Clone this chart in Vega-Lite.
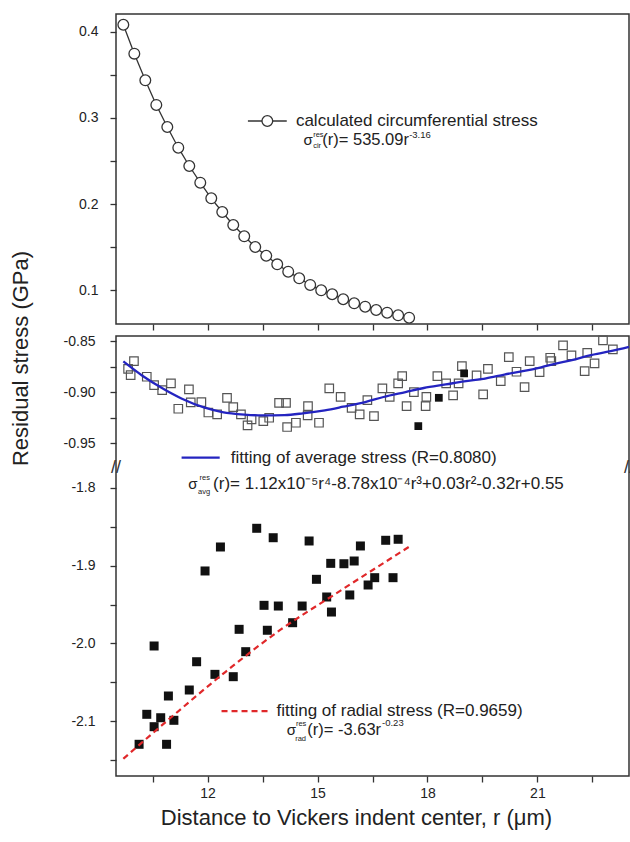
{
  "$schema": "https://vega.github.io/schema/vega-lite/v6.json",
  "padding": {"left": 8, "top": 13, "right": 0, "bottom": 5},
  "background": "white",
  "spacing": 12,
  "bounds": "flush",
  "config": {
    "view": {"stroke": "#333", "strokeWidth": 1.5},
    "axis": {"domain": false, "grid": false, "tickColor": "#333", "tickWidth": 1.3, "tickSize": 6,
      "labelFont": "Liberation Sans", "labelFontSize": 14, "labelColor": "#222",
      "titleFont": "Liberation Sans", "titleFontSize": 21, "titleFontWeight": "normal", "titleColor": "#222"},
    "text": {"font": "Liberation Sans", "color": "#222"}
  },
  "datasets": {
    "circ": [
      {"x": 9.7, "y": 0.408}, {"x": 10.0, "y": 0.3745}, {"x": 10.3, "y": 0.3436}, {"x": 10.6, "y": 0.315},
      {"x": 10.9, "y": 0.2894}, {"x": 11.2, "y": 0.2654}, {"x": 11.5, "y": 0.2442}, {"x": 11.8, "y": 0.2248},
      {"x": 12.1, "y": 0.2067}, {"x": 12.4, "y": 0.1908}, {"x": 12.7, "y": 0.1757}, {"x": 13.0, "y": 0.1626},
      {"x": 13.3, "y": 0.1502}, {"x": 13.6, "y": 0.1401}, {"x": 13.9, "y": 0.1301}, {"x": 14.2, "y": 0.1216},
      {"x": 14.5, "y": 0.1139}, {"x": 14.8, "y": 0.1062}, {"x": 15.1, "y": 0.1}, {"x": 15.4, "y": 0.0954},
      {"x": 15.7, "y": 0.0896}, {"x": 16.0, "y": 0.0849}, {"x": 16.3, "y": 0.081}, {"x": 16.6, "y": 0.0771},
      {"x": 16.9, "y": 0.074}, {"x": 17.2, "y": 0.071}, {"x": 17.5, "y": 0.0682}
    ],
    "circLegLine": [{"x": 13.1, "y": 0.2964}, {"x": 14.16, "y": 0.2964}],
    "circLegPt": [{"x": 13.63, "y": 0.2964}],
    "circLegText": [{"x": 14.41, "y": 0.2964, "t": "calculated circumferential stress"}],
    "circSigma": [{"x": 14.62, "y": 0.2686, "t": "σ"}],
    "circMain": [{"x": 15.13, "y": 0.2686, "t": "(r)= 535.09r"}],
    "circTiny": [
      {"x": 14.88, "y": 0.2784, "t": "res"},
      {"x": 14.88, "y": 0.2652, "t": "cir"}
    ],
    "circExp": [{"x": 17.5, "y": 0.2772, "t": "-3.16"}],
    "avgpts": [
      {"x": 9.83, "y": -0.8772}, {"x": 9.9, "y": -0.8834}, {"x": 9.99, "y": -0.8697}, {"x": 10.34, "y": -0.885},
      {"x": 10.54, "y": -0.8932}, {"x": 10.76, "y": -0.898}, {"x": 11.0, "y": -0.8915}, {"x": 11.2, "y": -0.9163},
      {"x": 11.49, "y": -0.8974}, {"x": 11.54, "y": -0.91}, {"x": 11.83, "y": -0.9098}, {"x": 12.02, "y": -0.92},
      {"x": 12.26, "y": -0.9218}, {"x": 12.53, "y": -0.9056}, {"x": 12.7, "y": -0.9147}, {"x": 12.91, "y": -0.9218},
      {"x": 13.09, "y": -0.9326}, {"x": 13.2, "y": -0.9267}, {"x": 13.52, "y": -0.9284}, {"x": 13.68, "y": -0.9251},
      {"x": 13.95, "y": -0.9105}, {"x": 14.14, "y": -0.9105}, {"x": 14.17, "y": -0.9342}, {"x": 14.41, "y": -0.93},
      {"x": 14.73, "y": -0.9228}, {"x": 14.74, "y": -0.9137}, {"x": 15.04, "y": -0.93}, {"x": 15.32, "y": -0.8964},
      {"x": 15.63, "y": -0.9046}, {"x": 15.93, "y": -0.9154}, {"x": 16.15, "y": -0.9218}, {"x": 16.36, "y": -0.9078},
      {"x": 16.54, "y": -0.9235}, {"x": 16.77, "y": -0.8964}, {"x": 16.97, "y": -0.9046}, {"x": 17.2, "y": -0.8915},
      {"x": 17.31, "y": -0.8843}, {"x": 17.43, "y": -0.9137}, {"x": 17.63, "y": -0.9}, {"x": 17.95, "y": -0.9137},
      {"x": 17.97, "y": -0.9046}, {"x": 18.27, "y": -0.8843}, {"x": 18.51, "y": -0.8915}, {"x": 18.7, "y": -0.9032},
      {"x": 18.85, "y": -0.8915}, {"x": 18.94, "y": -0.8746}, {"x": 19.34, "y": -0.8837}, {"x": 19.52, "y": -0.9023},
      {"x": 19.65, "y": -0.8772}, {"x": 20.0, "y": -0.8892}, {"x": 20.22, "y": -0.8658}, {"x": 20.43, "y": -0.8801},
      {"x": 20.65, "y": -0.8951}, {"x": 20.79, "y": -0.8697}, {"x": 21.06, "y": -0.8804}, {"x": 21.35, "y": -0.8664},
      {"x": 21.38, "y": -0.8697}, {"x": 21.7, "y": -0.8543}, {"x": 21.93, "y": -0.8641}, {"x": 22.29, "y": -0.8795},
      {"x": 22.36, "y": -0.8616}, {"x": 22.56, "y": -0.8719}, {"x": 22.79, "y": -0.8494}, {"x": 23.06, "y": -0.8582}
    ],
    "midFilled": [{"x": 17.75, "y": -0.9333}, {"x": 18.31, "y": -0.9056}, {"x": 19.0, "y": -0.8817}],
    "avgfit": [
      {"x": 9.7, "y": -0.87}, {"x": 10.2, "y": -0.8835}, {"x": 10.8, "y": -0.897}, {"x": 11.3, "y": -0.9065},
      {"x": 11.9, "y": -0.915}, {"x": 12.4, "y": -0.9195}, {"x": 13.0, "y": -0.922}, {"x": 13.5, "y": -0.9228},
      {"x": 14.1, "y": -0.9225}, {"x": 14.6, "y": -0.9208}, {"x": 15.2, "y": -0.9178}, {"x": 15.7, "y": -0.9143},
      {"x": 16.3, "y": -0.9098}, {"x": 16.8, "y": -0.9048}, {"x": 17.4, "y": -0.9}, {"x": 17.9, "y": -0.896},
      {"x": 18.5, "y": -0.8925}, {"x": 19.0, "y": -0.8895}, {"x": 19.6, "y": -0.8865}, {"x": 20.1, "y": -0.8828},
      {"x": 20.6, "y": -0.8795}, {"x": 21.1, "y": -0.8757}, {"x": 21.5, "y": -0.8722}, {"x": 22.0, "y": -0.8683},
      {"x": 22.4, "y": -0.8643}, {"x": 23.0, "y": -0.86}, {"x": 23.5, "y": -0.8557}
    ],
    "radpts": [
      {"x": 10.13, "y": -2.1294}, {"x": 10.34, "y": -2.0909}, {"x": 10.54, "y": -2.0032}, {"x": 10.54, "y": -2.1068},
      {"x": 10.72, "y": -2.0953}, {"x": 10.88, "y": -2.1294}, {"x": 10.93, "y": -2.0674}, {"x": 11.08, "y": -2.0986},
      {"x": 11.5, "y": -2.0597}, {"x": 11.7, "y": -2.0234}, {"x": 11.93, "y": -1.9069}, {"x": 12.2, "y": -2.0396},
      {"x": 12.35, "y": -1.8761}, {"x": 12.7, "y": -2.0426}, {"x": 12.86, "y": -1.9818}, {"x": 13.04, "y": -2.0105},
      {"x": 13.34, "y": -1.8521}, {"x": 13.54, "y": -1.951}, {"x": 13.63, "y": -1.983}, {"x": 13.79, "y": -1.8642},
      {"x": 13.93, "y": -1.9519}, {"x": 14.32, "y": -1.9733}, {"x": 14.58, "y": -1.9519}, {"x": 14.77, "y": -1.8684},
      {"x": 14.97, "y": -1.9176}, {"x": 15.25, "y": -1.9403}, {"x": 15.36, "y": -1.8971}, {"x": 15.38, "y": -1.9596},
      {"x": 15.72, "y": -1.8976}, {"x": 15.88, "y": -1.9377}, {"x": 16.0, "y": -1.8941}, {"x": 16.17, "y": -1.8748},
      {"x": 16.38, "y": -1.9249}, {"x": 16.56, "y": -1.9155}, {"x": 16.86, "y": -1.8675}, {"x": 17.06, "y": -1.9155},
      {"x": 17.2, "y": -1.8662}
    ],
    "radfit": [
      {"x": 9.7, "y": -2.148}, {"x": 11.0, "y": -2.095}, {"x": 12.5, "y": -2.036}, {"x": 14.0, "y": -1.982},
      {"x": 15.5, "y": -1.936}, {"x": 17.56, "y": -1.874}
    ],
    "avgLegLine": [{"x": 11.29, "y": -0.9641}, {"x": 12.33, "y": -0.9641}],
    "radLegLine": [{"x": 12.38, "y": -2.0867}, {"x": 13.745, "y": -2.0867}],
    "midLegText": [
      {"x": 12.63, "y": -0.9641, "t": "fitting of average stress (R=0.8080)"},
      {"x": 13.88, "y": -2.0867, "t": "fitting of radial stress (R=0.9659)"}
    ],
    "midSigma": [{"x": 11.47, "y": -1.8023, "t": "σ"}, {"x": 14.16, "y": -2.1175, "t": "σ"}],
    "avgMain": [{"x": 12.15, "y": -1.8023, "t": "(r)= 1.12x10⁻⁵r⁴-8.78x10⁻⁴r³+0.03r²-0.32r+0.55"}],
    "radMain": [{"x": 14.72, "y": -2.1175, "t": "(r)= -3.63r"}],
    "midTiny": [
      {"x": 11.78, "y": -1.79, "t": "res"},
      {"x": 11.74, "y": -1.8081, "t": "avg"},
      {"x": 14.41, "y": -2.1059, "t": "res"},
      {"x": 14.39, "y": -2.1252, "t": "rad"}
    ],
    "radExp": [{"x": 16.76, "y": -2.1055, "t": "-0.23"}],
    "breaks": [{"x": 9.5, "y": -1.3}, {"x": 23.5, "y": -1.3}]
  },
  "vconcat": [
    {
      "width": 513,
      "height": 310,
      "encoding": {
        "x": {"field": "x", "type": "quantitative",
          "scale": {"domain": [9.5, 23.5], "nice": false, "zero": false},
          "axis": {"values": [10.5, 12, 13.5, 15, 16.5, 18, 19.5, 21, 22.5], "labels": false, "title": null}},
        "y": {"field": "y", "type": "quantitative",
          "scale": {"domain": [0.0609, 0.4205], "nice": false, "zero": false},
          "axis": {"values": [0.1, 0.15, 0.2, 0.25, 0.3, 0.35, 0.4], "title": null, "labelPadding": 12,
            "labelExpr": "abs(datum.value*10 - round(datum.value*10)) < 0.001 ? format(datum.value, '.1f') : ''"}}
      },
      "layer": [
        {"data": {"name": "circ"}, "mark": {"type": "line", "color": "#333", "strokeWidth": 1.3}},
        {"data": {"name": "circ"}, "mark": {"type": "point", "shape": "circle", "size": 115, "fill": "white", "fillOpacity": 1, "stroke": "#333", "strokeWidth": 1.3, "opacity": 1}},
        {"data": {"name": "circLegLine"}, "mark": {"type": "line", "color": "#333", "strokeWidth": 1.3}},
        {"data": {"name": "circLegPt"}, "mark": {"type": "point", "shape": "circle", "size": 115, "fill": "white", "fillOpacity": 1, "stroke": "#333", "strokeWidth": 1.3, "opacity": 1}},
        {"data": {"name": "circLegText"}, "mark": {"type": "text", "align": "left", "baseline": "middle", "fontSize": 17}, "encoding": {"text": {"field": "t"}}},
        {"data": {"name": "circSigma"}, "mark": {"type": "text", "align": "left", "baseline": "alphabetic", "fontSize": 15}, "encoding": {"text": {"field": "t"}}},
        {"data": {"name": "circMain"}, "mark": {"type": "text", "align": "left", "baseline": "alphabetic", "fontSize": 16.5}, "encoding": {"text": {"field": "t"}}},
        {"data": {"name": "circTiny"}, "mark": {"type": "text", "align": "left", "baseline": "alphabetic", "fontSize": 7.5}, "encoding": {"text": {"field": "t"}}},
        {"data": {"name": "circExp"}, "mark": {"type": "text", "align": "left", "baseline": "alphabetic", "fontSize": 9.5}, "encoding": {"text": {"field": "t"}}}
      ]
    },
    {
      "width": 513,
      "height": 440,
      "encoding": {
        "x": {"field": "x", "type": "quantitative",
          "scale": {"domain": [9.5, 23.5], "nice": false, "zero": false},
          "axis": {"values": [10.5, 12, 13.5, 15, 16.5, 18, 19.5, 21, 22.5], "labelPadding": 4,
            "labelExpr": "datum.value % 3 == 0 ? datum.value : ''",
            "title": "Distance to Vickers indent center, r (μm)", "titleX": 240, "titlePadding": 7, "titleFontSize": 22}},
        "y": {"field": "y", "type": "quantitative",
          "scale": {"domain": [-2.1701, -1.7747, -0.9743, -0.8451], "range": [440, 132, 132, 0], "nice": false, "zero": false},
          "axis": {"values": [-2.15, -2.1, -2.05, -2, -1.95, -1.9, -1.85, -1.8, -0.95, -0.925, -0.9, -0.875, -0.85],
            "labelPadding": 15,
            "labelExpr": "datum.value > -1 ? (abs(datum.value*20 - round(datum.value*20)) < 0.001 ? replace(format(datum.value, '.2f'), '−', '-') : '') : (abs(datum.value*10 - round(datum.value*10)) < 0.001 ? replace(format(datum.value, '.1f'), '−', '-') : '')",
            "title": "Residual stress (GPa)", "titleX": -84, "titleY": 22, "titleFontSize": 22}}
      },
      "layer": [
        {"data": {"name": "avgpts"}, "mark": {"type": "point", "shape": "square", "size": 72, "filled": false, "stroke": "#555", "strokeWidth": 1.2, "opacity": 1}},
        {"data": {"name": "midFilled"}, "mark": {"type": "point", "shape": "square", "size": 60, "filled": true, "color": "#111", "opacity": 1}},
        {"data": {"name": "avgfit"}, "mark": {"type": "line", "color": "#2424c0", "strokeWidth": 2.3, "interpolate": "monotone"}},
        {"data": {"name": "radpts"}, "mark": {"type": "point", "shape": "square", "size": 81, "filled": true, "color": "#111", "opacity": 1}},
        {"data": {"name": "radfit"}, "mark": {"type": "line", "color": "#e0282a", "strokeWidth": 2.2, "strokeDash": [6, 4], "interpolate": "monotone"}},
        {"data": {"name": "avgLegLine"}, "mark": {"type": "line", "color": "#2424c0", "strokeWidth": 2.3}},
        {"data": {"name": "radLegLine"}, "mark": {"type": "line", "color": "#e0282a", "strokeWidth": 2.2, "strokeDash": [6, 4]}},
        {"data": {"name": "midLegText"}, "mark": {"type": "text", "align": "left", "baseline": "middle", "fontSize": 17}, "encoding": {"text": {"field": "t"}}},
        {"data": {"name": "midSigma"}, "mark": {"type": "text", "align": "left", "baseline": "alphabetic", "fontSize": 15}, "encoding": {"text": {"field": "t"}}},
        {"data": {"name": "avgMain"}, "mark": {"type": "text", "align": "left", "baseline": "alphabetic", "fontSize": 17}, "encoding": {"text": {"field": "t"}}},
        {"data": {"name": "radMain"}, "mark": {"type": "text", "align": "left", "baseline": "alphabetic", "fontSize": 16.5}, "encoding": {"text": {"field": "t"}}},
        {"data": {"name": "midTiny"}, "mark": {"type": "text", "align": "left", "baseline": "alphabetic", "fontSize": 7.5}, "encoding": {"text": {"field": "t"}}},
        {"data": {"name": "radExp"}, "mark": {"type": "text", "align": "left", "baseline": "alphabetic", "fontSize": 9.5}, "encoding": {"text": {"field": "t"}}},
        {"data": {"name": "breaks"}, "mark": {"type": "text", "align": "center", "baseline": "middle", "fontSize": 18, "color": "#333"}, "encoding": {"text": {"value": "//"}}}
      ]
    }
  ]
}
